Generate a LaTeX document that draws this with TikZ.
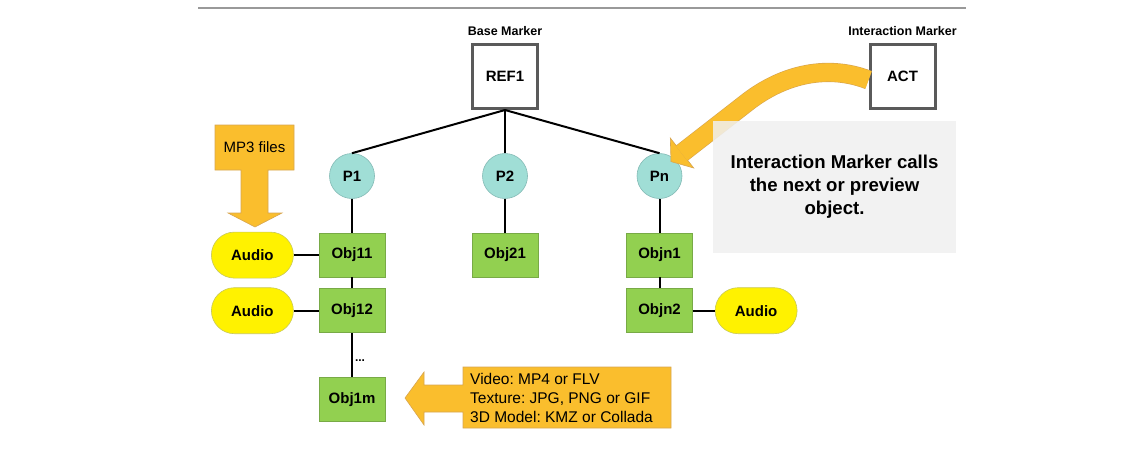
\documentclass[tikz,border=0pt]{standalone}
\usepackage{fontspec}
\setmainfont{Liberation Sans}
\frenchspacing
\usetikzlibrary{positioning}
\definecolor{calloutfill}{RGB}{250,190,45}
\definecolor{calloutedge}{RGB}{215,165,80}
\definecolor{objgreen}{RGB}{146,208,80}
\definecolor{objedge}{RGB}{120,170,70}
\definecolor{pteal}{RGB}{160,222,214}
\definecolor{pedge}{RGB}{130,185,180}
\definecolor{audioedge}{RGB}{200,200,90}
\definecolor{markergray}{RGB}{90,90,90}
\definecolor{notegray}{RGB}{240,240,240}
\tikzset{link/.style = {line width=2pt, black}}
\tikzset{callout/.style = {fill=calloutfill, draw=calloutedge, line width=0.6pt}}

\begin{document}
\begin{tikzpicture}[x=1pt, y=-1pt, node distance=25pt,
    bold15/.style={font=\fontsize{15pt}{18pt}\selectfont\bfseries},
    marker node/.style={draw=markergray, line width=3pt, fill=white, minimum width=65pt, minimum height=64pt, bold15},
    marker label/.style={inner sep=0pt, font=\fontsize{12.5pt}{14pt}\selectfont\bfseries},
    p node/.style={circle, draw=pedge, fill=pteal, line width=0.6pt, minimum size=45pt, inner sep=0pt, bold15},
    obj node/.style={draw=objedge, fill=objgreen, line width=0.6pt, minimum width=66pt, minimum height=44pt, inner sep=0pt, bold15},
    audio node/.style={draw=audioedge, fill=yellow, line width=0.6pt, rounded corners=23pt, minimum width=82pt, minimum height=46pt, inner sep=0pt, bold15}]
\useasboundingbox (0,0) rectangle (1145,453);
\draw[gray!80, line width=1.2pt] (198,8) -- (966,8);

% markers
\node[marker node] (ref1) at (505,76.5) {REF1};
\node[marker node] (act) at (902.5,76.5) {ACT};
\node[marker label, above=7.5pt of ref1] (baselabel) {Base Marker};
\node[marker label, above=7.5pt of act] (actlabel) {Interaction Marker};

% pages
\node[p node] (p1) at (352,176) {P1};
\node[p node] (p2) at (505,176) {P2};
\node[p node] (pn) at (659.5,176) {Pn};

% objects
\node[obj node, below=34pt of p1] (obj11) {Obj11};
\node[obj node, below=11pt of obj11] (obj12) {Obj12};
\node[obj node, below=44pt of obj12] (obj1m) {Obj1m};
\node[obj node, below=34pt of p2] (obj21) {Obj21};
\node[obj node, below=34pt of pn] (objn1) {Objn1};
\node[obj node, below=11pt of objn1] (objn2) {Objn2};

\node[audio node, left=25pt of obj11] (audio11) {Audio};
\node[audio node, left=25pt of obj12] (audio12) {Audio};
\node[audio node, right=22pt of objn2] (audion2) {Audio};

\draw[link] (ref1.south) -- (p1.north);
\draw[link] (ref1.south) -- (p2.north);
\draw[link] (ref1.south) -- (pn.north);
\draw[link] (p1) -- (obj11);
\draw[link] (p2) -- (obj21);
\draw[link] (pn) -- (objn1);
\draw[link] (obj11) -- (obj12);
\draw[link] (objn1) -- (objn2);
\draw[link] (obj12) -- node[pos=0.62, right, inner sep=2pt, font=\fontsize{12pt}{14pt}\selectfont\bfseries] (dots) {...} (obj1m);
\draw[link] (audio11) -- (obj11);
\draw[link] (audio12) -- (obj12);
\draw[link] (objn2) -- (audion2);

% callouts
\draw[callout] (215,125) -- (294,125) -- (294,170) -- (268,170) -- (268,213) -- (282,213)
  -- (255,227) -- (228,213) -- (241,213) -- (241,170) -- (215,170) -- cycle;
\node[font=\fontsize{15pt}{18pt}\selectfont] (mp3) at (254.5,147.5) {MP3 files};

\draw[callout] (671,367) -- (671,428) -- (463,428) -- (463,412) -- (424,412) -- (424,425)
  -- (405,398) -- (424,372) -- (424,385) -- (463,385) -- (463,367) -- cycle;
\node[anchor=west, align=left, inner sep=0pt, font=\fontsize{15.5pt}{19pt}\selectfont] (media) at (470,398)
  {Video: MP4 or FLV\\Texture: JPG, PNG or GIF\\3D Model: KMZ or Collada};

% interaction arrow
\draw[callout] (670.3,138) -- (693.7,168) -- (671,161.6) -- cycle;
\draw[double=calloutfill, double distance=18pt, line width=0.6pt, draw=calloutedge]
  (act.west |- 0,80) .. controls (830,65) and (785,72) .. (745,104) -- (681.6,153.3);
\node[fill=notegray, fill opacity=0.85, text opacity=1, minimum width=243pt, minimum height=132pt,
  align=center, font=\fontsize{18.6pt}{23pt}\selectfont\bfseries] (note) at (834.5,187)
  {Interaction Marker calls\\the next or preview\\object.};
\end{tikzpicture}
\end{document}
